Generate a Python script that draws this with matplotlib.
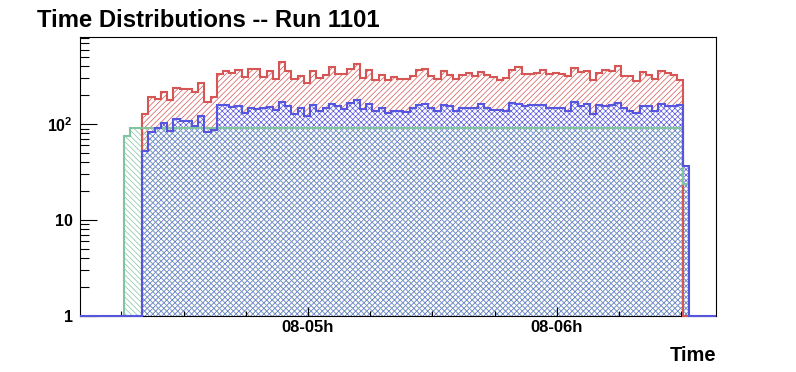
import numpy as np
import matplotlib
matplotlib.use('Agg')
import matplotlib.pyplot as plt
from matplotlib.ticker import FixedLocator, LogLocator, NullFormatter

# --- data (counts per 1.5 min bin) ---
bin_width = 1.5 / 60          # hours
red_start = 4 + 20 / 60       # 04:20
blue_start = 4 + 20 / 60
green_start = 4 + 15.5 / 60   # green begins 3 bins earlier

red_counts = [128, 190, 184, 214, 177, 236, 230, 230, 219, 266,
              172, 190, 335, 355, 341, 363, 307, 372, 372, 312,
              355, 293, 444, 355, 295, 315, 272, 355, 300, 322,
              397, 330, 330, 372, 420, 300, 363, 286, 322, 286,
              312, 295, 295, 315, 363, 372, 315, 295, 355, 322,
              295, 322, 338, 315, 346, 322, 307, 286, 300, 363,
              391, 330, 330, 338, 363, 330, 338, 330, 315, 381,
              346, 355, 286, 338, 363, 355, 400, 315, 315, 279,
              346, 322, 293, 355, 338, 322, 286, 0]

blue_counts = [53, 82, 91, 102, 85, 113, 109, 107, 95, 123,
               82, 88, 157, 157, 152, 153, 132, 149, 143, 147,
               150, 139, 172, 153, 129, 149, 122, 160, 136, 149,
               164, 153, 145, 168, 177, 143, 164, 136, 149, 131,
               138, 138, 134, 149, 160, 164, 149, 136, 157, 153,
               136, 149, 149, 149, 164, 149, 139, 139, 136, 168,
               164, 153, 157, 157, 160, 149, 146, 149, 136, 172,
               153, 164, 129, 157, 153, 160, 168, 149, 136, 132,
               153, 153, 136, 164, 153, 153, 157, 37]

green_counts = [76, 92, 92,
                92, 92, 92, 92, 92, 92, 92, 92, 92, 92,
                92, 92, 92, 92, 92, 92, 92, 92, 92, 92,
                92, 92, 92, 92, 92, 92, 92, 92, 92, 92,
                92, 92, 92, 92, 92, 92, 92, 92, 92, 92,
                92, 92, 92, 92, 92, 92, 92, 92, 92, 92,
                92, 92, 92, 92, 92, 92, 92, 92, 92, 92,
                92, 92, 92, 92, 92, 92, 92, 92, 92, 92,
                92, 92, 92, 92, 92, 92, 92, 92, 92, 92,
                92, 92, 92, 92, 92, 92, 92, 24]

hour_ticks = [5, 6]
hour_labels = ['08-05h', '08-06h']

# --- style ---
plt.rcParams['font.family'] = ['Liberation Sans', 'DejaVu Sans']
plt.rcParams['font.weight'] = 'bold'
plt.rcParams['mathtext.fontset'] = 'custom'
plt.rcParams['mathtext.rm'] = 'Liberation Sans:bold'
plt.rcParams['mathtext.bf'] = 'Liberation Sans:bold'
plt.rcParams['hatch.linewidth'] = 0.5

RED = '#d65555'
BLUE = '#5555dd'
GREEN = '#80c4a0'

XMIN, XMAX = 4 + 5 / 60, 6.64
YMIN, YMAX = 1, 807


def make_edges(start, n):
    return start + bin_width * np.arange(n + 1)


def fill_hist(ax, start, counts, color, hatch, face, z):
    """hatched area of one histogram"""
    vals = np.clip(np.asarray(counts, float), YMIN, None)
    ax.stairs(vals, make_edges(start, len(vals)), baseline=YMIN, fill=True,
              facecolor=face, edgecolor=color, hatch=hatch, linewidth=0, zorder=z)


def line_hist(ax, start, counts, color, z, full_range=False):
    """outline of one histogram"""
    vals = np.clip(np.asarray(counts, float), YMIN, None)
    edges = make_edges(start, len(vals))
    if full_range:
        # empty bins over the whole axis drawn along the bottom
        edges = np.concatenate([[XMIN], edges, [XMAX]])
        vals = np.concatenate([[YMIN], vals, [YMIN]])
    ax.stairs(vals, edges, baseline=YMIN, fill=False, edgecolor=color,
              linewidth=1.5, zorder=z, clip_on=False)


fig = plt.figure(figsize=(7.96, 3.72), dpi=100)
ax = fig.add_axes([0.1005, 0.1505, 0.799, 0.7495])

fill_hist(ax, red_start, red_counts, RED, '//////', 'white', 1)
fill_hist(ax, blue_start, blue_counts, BLUE, 'xxxxxx', 'white', 1.1)
fill_hist(ax, green_start, green_counts, GREEN, '\\\\\\\\\\\\', 'none', 1.2)

line_hist(ax, red_start, red_counts, RED, 3)
line_hist(ax, green_start, green_counts, GREEN, 3.1)
line_hist(ax, blue_start, blue_counts, BLUE, 3.2, full_range=True)

ax.set_yscale('log')
ax.set_xlim(XMIN, XMAX)
ax.set_ylim(YMIN, YMAX)

ax.yaxis.set_major_locator(FixedLocator([1, 10, 100]))
ax.set_yticklabels(['1', '10', r'$\mathbf{10^{2}}$'])
ax.yaxis.set_minor_locator(LogLocator(base=10, subs=range(2, 10)))
ax.yaxis.set_minor_formatter(NullFormatter())

ax.set_xticks(hour_ticks)
ax.set_xticklabels(hour_labels)
ax.xaxis.set_minor_locator(FixedLocator(np.arange(4.25, 6.6, 0.25)))

ax.tick_params(axis='y', which='major', direction='in', length=12.5, width=0.8,
               labelsize=11.5, pad=5, right=False)
ax.tick_params(axis='y', which='minor', direction='in', length=6.5, width=0.8, right=False)
ax.tick_params(axis='x', which='major', direction='in', length=6.5, width=0.8,
               labelsize=12, pad=3, top=False)
ax.tick_params(axis='x', which='minor', direction='in', length=3.5, width=0.8, top=False)
for sp in ax.spines.values():
    sp.set_linewidth(0.8)

fig.text(0.046, 0.927, 'Time Distributions -- Run 1101', fontsize=17.2,
         fontweight='bold', va='baseline')
fig.text(0.8995, 0.030, 'Time', fontsize=14.5, fontweight='bold',
         ha='right', va='baseline')

fig.savefig('out.png', dpi=100)
